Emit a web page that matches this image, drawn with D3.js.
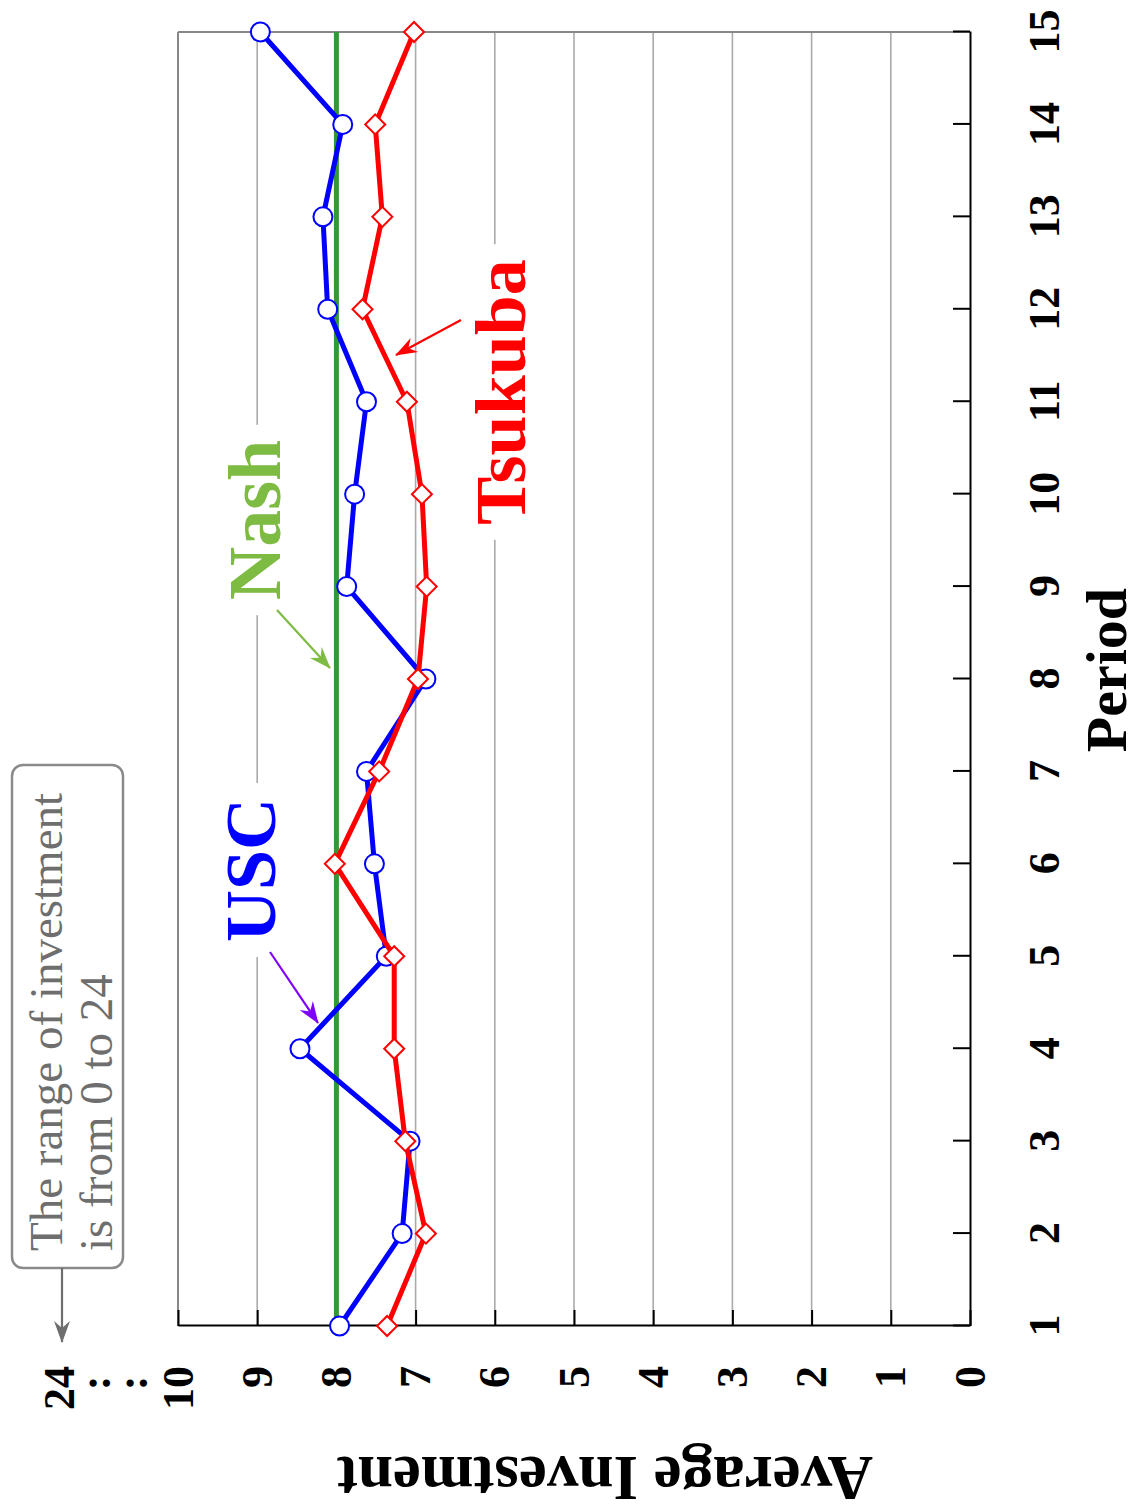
<!DOCTYPE html>
<html><head><meta charset="utf-8">
<script src="https://cdn.jsdelivr.net/npm/d3@7"></script>
<style>html,body{margin:0;padding:0;background:#fff}</style>
</head><body>
<svg id="chart" width="1140" height="1512"></svg>
<script>
// ---- data ----
const periods = [1,2,3,4,5,6,7,8,9,10,11,12,13,14,15];
const uscValues = [7.96,7.17,7.07,8.46,7.37,7.52,7.62,6.87,7.87,7.77,7.62,8.11,8.17,7.92,8.96];
const tsukubaValues = [7.36,6.87,7.13,7.27,7.27,8.02,7.46,6.97,6.86,6.92,7.11,7.67,7.42,7.51,7.02];
const nashValue = 8;
const yTickValues = [0,1,2,3,4,5,6,7,8,9,10];
const yExtraLabels = ["24", ":", ":"];
const seriesNames = ["USC","Tsukuba","Nash"];
const xAxisTitle = "Period";
const yAxisTitle = "Average Investment";
const noteLines = ["The range of investment","is from 0 to 24"];

// ---- drawing ----
const serif = "'Liberation Serif','Times New Roman',Times,serif";
const svg = d3.select("#chart");
// whole chart is drawn in an unrotated 1512x1140 frame, then turned -90deg
const g = svg.append("g").attr("transform","translate(0,1512) rotate(-90)");

const plot = {left:186, right:1480, top:178, bottom:970};
const x = d3.scaleLinear().domain([1,15]).range([plot.left, plot.right]);
const y = d3.scaleLinear().domain([0,10]).range([plot.bottom, plot.top]);

// markers
const defs = svg.append("defs");
function arrowMarker(id, color){
  defs.append("marker").attr("id",id)
    .attr("viewBox","0 0 22 20").attr("refX",21).attr("refY",10)
    .attr("markerWidth",22).attr("markerHeight",20)
    .attr("markerUnits","userSpaceOnUse").attr("orient","auto")
    .append("path").attr("d","M0,2 L22,10 L0,18 L7,10 Z").attr("fill",color);
}
arrowMarker("arUSC","#7f00ff");
arrowMarker("arNash","#7dbb42");
arrowMarker("arTsu","#ff0000");
arrowMarker("arNote","#6e6e6e");

// gridlines
g.append("g").selectAll("line").data(yTickValues.filter(v=>v>0&&v<10)).join("line")
  .attr("x1",x(1)).attr("x2",x(15)).attr("y1",d=>y(d)).attr("y2",d=>y(d))
  .attr("stroke","#aaaaaa").attr("stroke-width",1.6);
// top & right frame (gray)
g.append("line").attr("x1",x(1)).attr("x2",x(15)).attr("y1",y(10)).attr("y2",y(10))
  .attr("stroke","#888").attr("stroke-width",2);
g.append("line").attr("x1",x(15)).attr("x2",x(15)).attr("y1",y(0)).attr("y2",y(10))
  .attr("stroke","#888").attr("stroke-width",2);

// axes
const xAxis = g.append("g").attr("transform",`translate(0,${y(0)})`)
  .call(d3.axisBottom(x).tickValues(periods).tickFormat(d3.format("d"))
    .tickSizeInner(-17).tickSizeOuter(0).tickPadding(58));
const yAxis = g.append("g").attr("transform",`translate(${x(1)},0)`)
  .call(d3.axisLeft(y).tickValues(yTickValues).tickFormat(d3.format("d"))
    .tickSizeInner(-16).tickSizeOuter(0).tickPadding(40));
[xAxis,yAxis].forEach(a=>{
  a.select(".domain").attr("stroke","#000").attr("stroke-width",2);
  a.selectAll(".tick line").attr("stroke","#000").attr("stroke-width",2);
  a.selectAll(".tick text").attr("fill","#000")
    .style("font-family",serif).style("font-weight","bold").style("font-size","44px");
});
// extra labels above 10
const extraPos = [{dy:-118, anchor:"end", dx:-40},{dy:-82, anchor:"middle", dx:-57},{dy:-45, anchor:"middle", dx:-57}];
g.append("g").selectAll("text").data(yExtraLabels).join("text")
  .attr("x",(d,i)=>x(1)+extraPos[i].dx).attr("y",(d,i)=>y(10)+extraPos[i].dy)
  .attr("dy","0.32em").attr("text-anchor",(d,i)=>extraPos[i].anchor)
  .style("font-family",serif).style("font-weight","bold").style("font-size","44px")
  .text(d=>d);

// axis titles
g.append("text").attr("x",(plot.left+plot.right)/2+9).attr("y",1126)
  .attr("text-anchor","middle").style("font-family",serif).style("font-weight","bold")
  .style("font-size","58px").text(xAxisTitle);
g.append("text").attr("transform","translate(55,605) rotate(-90)")
  .attr("text-anchor","middle").style("font-family",serif).style("font-weight","bold")
  .style("font-size","63px").text(yAxisTitle);

// labels with white background
function label(txt, cx, base, color, size){
  const grp = g.append("g");
  const rect = grp.append("rect").attr("fill","#fff");
  const t = grp.append("text").attr("x",cx).attr("y",base).attr("text-anchor","middle")
    .style("font-family",serif).style("font-weight","bold").style("font-size",size+"px")
    .attr("fill",color).text(txt);
  const b = t.node().getBBox();
  rect.attr("x",b.x-15).attr("y",b.y-4).attr("width",b.width+30).attr("height",b.height+8);
}
label(seriesNames[0], 642, 275, "#0000ff", 72);
label(seriesNames[2], 992, 280, "#7dbb42", 74);
label(seriesNames[1], 1120, 525, "#ff0000", 72);

// annotation arrows
function arrow(x1,y1,x2,y2,color,mid){
  g.append("line").attr("x1",x1).attr("y1",y1).attr("x2",x2).attr("y2",y2)
    .attr("stroke",color).attr("stroke-width",2.2).attr("marker-end",`url(#${mid})`);
}
arrow(560,270,489,318,"#7f00ff","arUSC");
arrow(902,277,844,330,"#7dbb42","arNash");
arrow(1192,461,1157,396,"#ff0000","arTsu");

// note box
g.append("rect").attr("x",244).attr("y",12).attr("width",503).attr("height",111)
  .attr("rx",11).attr("fill","#fff").attr("stroke","#8a8a8a").attr("stroke-width",2.5);
g.append("g").selectAll("text").data(noteLines).join("text")
  .attr("x",261).attr("y",(d,i)=>62+i*50)
  .style("font-family",serif).style("font-size","47px").attr("fill","#6e6e6e").text(d=>d);
arrow(244,62,170,62,"#6e6e6e","arNote");

// Nash line
g.append("line").attr("x1",x(1)).attr("x2",x(15)).attr("y1",y(nashValue)).attr("y2",y(nashValue))
  .attr("stroke","#339933").attr("stroke-width",5);

// series
const line = d3.line().x(d=>x(d[0])).y(d=>y(d[1]));
const usc = periods.map((p,i)=>[p,uscValues[i]]);
const tsu = periods.map((p,i)=>[p,tsukubaValues[i]]);
g.append("path").datum(usc).attr("d",line).attr("fill","none")
  .attr("stroke","#0000ff").attr("stroke-width",5).attr("stroke-linejoin","round");
g.append("g").selectAll("circle").data(usc).join("circle")
  .attr("cx",d=>x(d[0])).attr("cy",d=>y(d[1])).attr("r",9.5)
  .attr("fill","#fff").attr("stroke","#0000ff").attr("stroke-width",2);
g.append("path").datum(tsu).attr("d",line).attr("fill","none")
  .attr("stroke","#ff0000").attr("stroke-width",5).attr("stroke-linejoin","round");
const diamond = d3.symbol(d3.symbolSquare, 200);
g.append("g").selectAll("path").data(tsu).join("path")
  .attr("d",diamond).attr("transform",d=>`translate(${x(d[0])},${y(d[1])}) rotate(45)`)
  .attr("fill","#fff").attr("stroke","#ff0000").attr("stroke-width",2);
</script>
</body></html>
